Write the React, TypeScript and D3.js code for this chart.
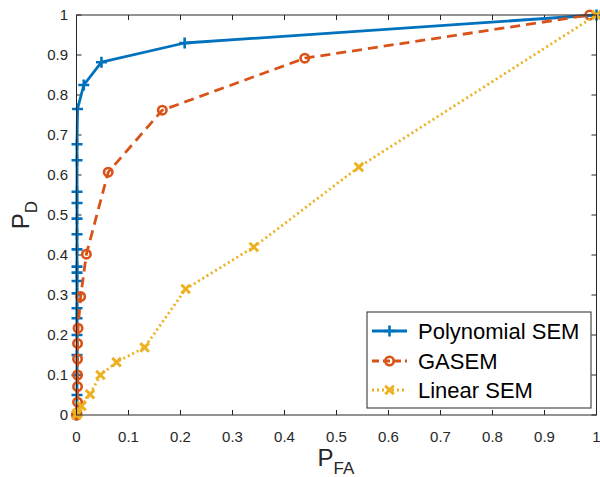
import React from 'react';
import * as d3 from 'd3';

// ROC curves: probability of detection vs probability of false alarm
const polyFA = [0, 0.001, 0.001, 0.001, 0.001, 0.001, 0.001, 0.001, 0.001, 0.001, 0.001, 0.001, 0.001, 0.001, 0.001, 0.001, 0.001, 0.001, 0.002, 0.014, 0.048, 0.208, 1];
const polyD = [0, 0.05, 0.1, 0.15, 0.2, 0.242, 0.267, 0.304, 0.335, 0.356, 0.371, 0.414, 0.452, 0.491, 0.53, 0.558, 0.637, 0.677, 0.765, 0.825, 0.882, 0.93, 1];

const gasemFA = [0, 0.001, 0.002, 0.002, 0.002, 0.002, 0.002, 0.003, 0.008, 0.019, 0.061, 0.165, 0.439, 0.987];
const gasemD = [0, 0.004, 0.032, 0.071, 0.1, 0.14, 0.179, 0.217, 0.296, 0.402, 0.607, 0.762, 0.892, 1];

const linFA = [0, 0.002, 0.0096, 0.026, 0.046, 0.077, 0.131, 0.21, 0.341, 0.543, 1];
const linD = [0, 0.005, 0.0225, 0.052, 0.1, 0.132, 0.169, 0.315, 0.42, 0.62, 1];

const tickValues = [0, 0.1, 0.2, 0.3, 0.4, 0.5, 0.6, 0.7, 0.8, 0.9, 1];
const tickLabels = ['0', '0.1', '0.2', '0.3', '0.4', '0.5', '0.6', '0.7', '0.8', '0.9', '1'];

const seriesNames = ['Polynomial SEM', 'GASEM', 'Linear SEM'];
const colors = ['#0072BD', '#D95319', '#EDB120'];

const W = 600, H = 477;
const font = 'Liberation Sans, Arial, Helvetica, sans-serif';
const axisColor = '#262626';

const x = d3.scaleLinear().domain([0, 1]).range([76.5, 596.5]);
const y = d3.scaleLinear().domain([0, 1]).range([415, 15]);

function Marker({ kind, cx, cy, color }: { kind: string; cx: number; cy: number; color: string }) {
  if (kind === 'plus') {
    const s = 5.5;
    return <path d={`M${cx - s},${cy}H${cx + s}M${cx},${cy - s}V${cy + s}`} stroke={color} strokeWidth={2.6} fill="none" />;
  }
  if (kind === 'circle') {
    return <circle cx={cx} cy={cy} r={4.2} stroke={color} strokeWidth={2.6} fill="none" />;
  }
  const s = 4.3;
  return <path d={`M${cx - s},${cy - s}L${cx + s},${cy + s}M${cx - s},${cy + s}L${cx + s},${cy - s}`} stroke={color} strokeWidth={2.9} fill="none" />;
}

const series = [
  { fa: polyFA, d: polyD, marker: 'plus', dash: undefined },
  { fa: gasemFA, d: gasemD, marker: 'circle', dash: '10,6' },
  { fa: linFA, d: linD, marker: 'x', dash: '2,3' },
];

export default function App() {
  const line = d3.line<[number, number]>().x(p => x(p[0])).y(p => y(p[1]));
  const [x0, x1] = x.range();
  const [y0, y1] = y.range();
  const tickLen = 5;

  const legX = 367, legY = 312, legW = 224, legH = 96;
  const rowY = [331, 361, 390];

  return (
    <div style={{ position: 'fixed', left: 0, top: 0 }}>
      <svg width={W} height={H} style={{ display: 'block', background: '#fff' }} fontFamily={font}>
        <rect width={W} height={H} fill="#fff" />

        {/* ticks */}
        {tickValues.map((v, i) => (
          <g key={'t' + i} stroke={axisColor} strokeWidth={1}>
            <line x1={x(v)} x2={x(v)} y1={y0} y2={y0 - tickLen} />
            <line x1={x(v)} x2={x(v)} y1={y1} y2={y1 + tickLen} />
            <line x1={x0} x2={x0 + tickLen} y1={y(v)} y2={y(v)} />
            <line x1={x1} x2={x1 - tickLen} y1={y(v)} y2={y(v)} />
          </g>
        ))}

        {/* tick labels */}
        {tickValues.map((v, i) => (
          <text key={'xl' + i} x={x(v)} y={442} textAnchor="middle" fontSize={15} fill={axisColor}>
            {tickLabels[i]}
          </text>
        ))}
        {tickValues.map((v, i) => (
          <text key={'yl' + i} x={68} y={y(v)} dy="0.36em" textAnchor="end" fontSize={15} fill={axisColor}>
            {tickLabels[i]}
          </text>
        ))}

        {/* axis labels */}
        <text x={336} y={466} textAnchor="middle" fontSize={24} fill={axisColor}>
          P<tspan fontSize={17} dy={8}>FA</tspan>
        </text>
        <text transform={`translate(29,${(y0 + y1) / 2}) rotate(-90)`} textAnchor="middle" fontSize={24} fill={axisColor}>
          P<tspan fontSize={17} dy={8}>D</tspan>
        </text>

        {/* series */}
        {series.map((s, k) => {
          const pts: [number, number][] = s.fa.map((f, i) => [f, s.d[i]]);
          return (
            <g key={'s' + k}>
              <path d={line(pts) || ''} fill="none" stroke={colors[k]} strokeWidth={2.8} strokeDasharray={s.dash} strokeLinejoin="round" />
              {pts.map((p, i) => (
                <Marker key={i} kind={s.marker} cx={x(p[0])} cy={y(p[1])} color={colors[k]} />
              ))}
            </g>
          );
        })}

        {/* box */}
        <rect x={x0} y={y1} width={x1 - x0} height={y0 - y1} fill="none" stroke={axisColor} strokeWidth={1} />

        {/* legend */}
        <rect x={legX} y={legY} width={legW} height={legH} fill="#fff" stroke={axisColor} strokeWidth={1} />
        {seriesNames.map((name, k) => (
          <g key={'lg' + k}>
            <line x1={372} x2={407} y1={rowY[k]} y2={rowY[k]} stroke={colors[k]} strokeWidth={2.8} strokeDasharray={series[k].dash ? (k === 1 ? '7,4' : '2,3') : undefined} />
            <Marker kind={series[k].marker} cx={389.5} cy={rowY[k]} color={colors[k]} />
            <text x={418} y={rowY[k]} dy="0.36em" fontSize={22} fill="#000">{name}</text>
          </g>
        ))}
      </svg>
    </div>
  );
}
